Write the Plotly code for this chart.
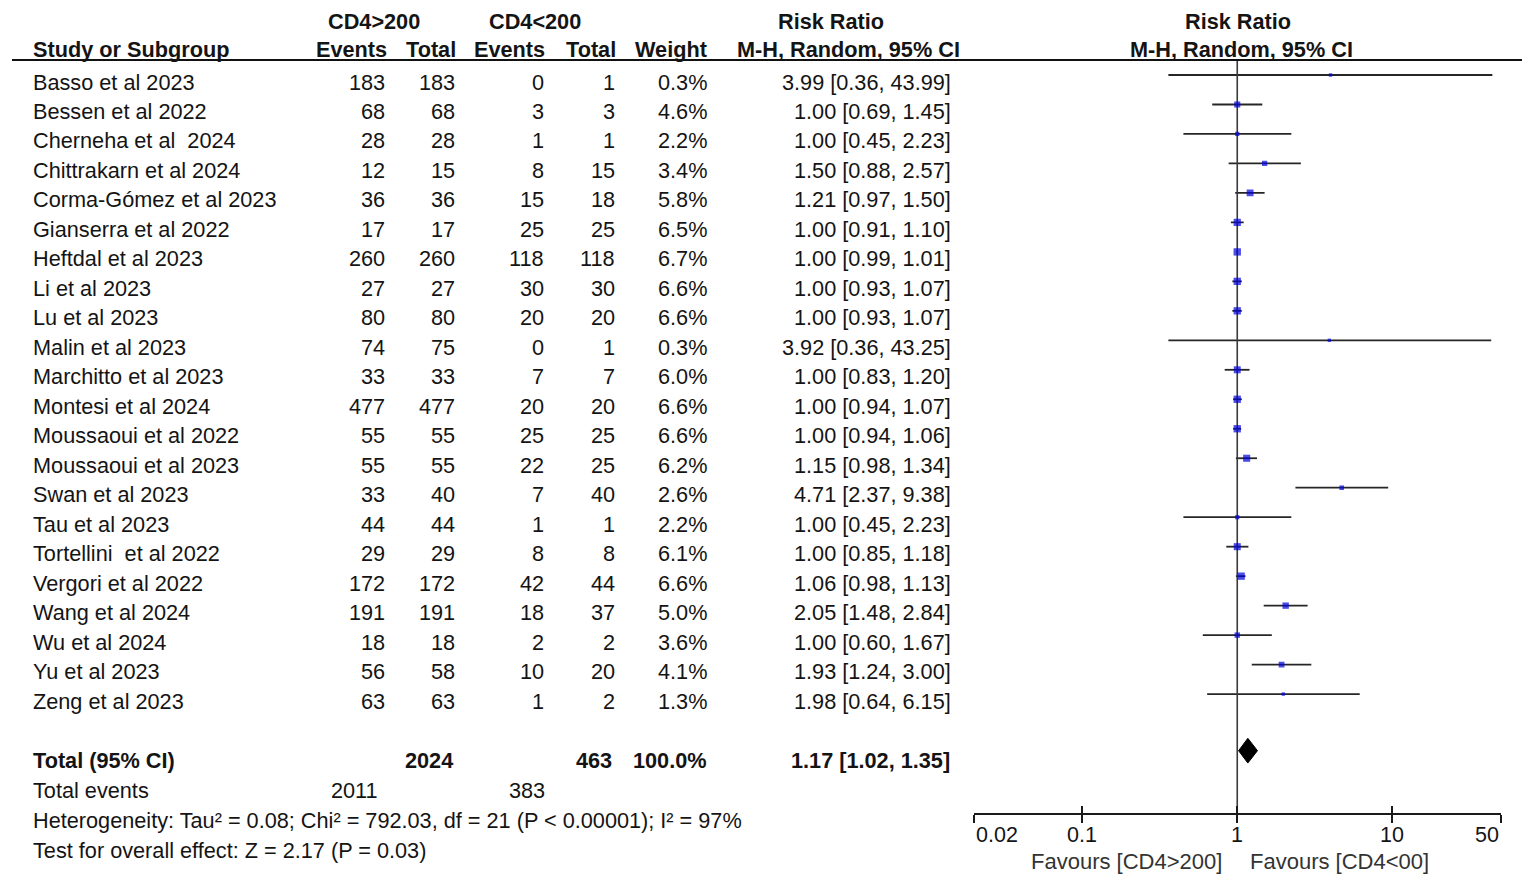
import math
import plotly.graph_objects as go

# ---------------- data ----------------
studies = ["Basso et al 2023", "Bessen et al 2022", "Cherneha et al  2024", "Chittrakarn et al 2024",
           "Corma-Gómez et al 2023", "Gianserra et al 2022", "Heftdal et al 2023", "Li et al 2023",
           "Lu et al 2023", "Malin et al 2023", "Marchitto et al 2023", "Montesi et al 2024",
           "Moussaoui et al 2022", "Moussaoui et al 2023", "Swan et al 2023", "Tau et al 2023",
           "Tortellini  et al 2022", "Vergori et al 2022", "Wang et al 2024", "Wu et al 2024",
           "Yu et al 2023", "Zeng et al 2023"]
events_hi = [183, 68, 28, 12, 36, 17, 260, 27, 80, 74, 33, 477, 55, 55, 33, 44, 29, 172, 191, 18, 56, 63]
total_hi = [183, 68, 28, 15, 36, 17, 260, 27, 80, 75, 33, 477, 55, 55, 40, 44, 29, 172, 191, 18, 58, 63]
events_lo = [0, 3, 1, 8, 15, 25, 118, 30, 20, 0, 7, 20, 25, 22, 7, 1, 8, 42, 18, 2, 10, 1]
total_lo = [1, 3, 1, 15, 18, 25, 118, 30, 20, 1, 7, 20, 25, 25, 40, 1, 8, 44, 37, 2, 20, 2]
weights = [0.3, 4.6, 2.2, 3.4, 5.8, 6.5, 6.7, 6.6, 6.6, 0.3, 6.0, 6.6, 6.6, 6.2, 2.6, 2.2, 6.1, 6.6, 5.0, 3.6, 4.1, 1.3]
rr = [3.99, 1.00, 1.00, 1.50, 1.21, 1.00, 1.00, 1.00, 1.00, 3.92, 1.00, 1.00, 1.00, 1.15, 4.71, 1.00, 1.00, 1.06, 2.05, 1.00, 1.93, 1.98]
ci_low = [0.36, 0.69, 0.45, 0.88, 0.97, 0.91, 0.99, 0.93, 0.93, 0.36, 0.83, 0.94, 0.94, 0.98, 2.37, 0.45, 0.85, 0.98, 1.48, 0.60, 1.24, 0.64]
ci_high = [43.99, 1.45, 2.23, 2.57, 1.50, 1.10, 1.01, 1.07, 1.07, 43.25, 1.20, 1.07, 1.06, 1.34, 9.38, 2.23, 1.18, 1.13, 2.84, 1.67, 3.00, 6.15]

total_n_hi = 2024
total_n_lo = 463
total_events_hi = 2011
total_events_lo = 383
total_weight = "100.0%"
pooled_rr = 1.17
pooled_low = 1.02
pooled_high = 1.35

tick_values = [0.02, 0.1, 1, 10, 50]
tick_labels = ["0.02", "0.1", "1", "10", "50"]
heterogeneity_text = "Heterogeneity: Tau² = 0.08; Chi² = 792.03, df = 21 (P < 0.00001); I² = 97%"
overall_text = "Test for overall effect: Z = 2.17 (P = 0.03)"
favours_left = "Favours [CD4&gt;200]"
favours_right = "Favours [CD4&lt;00]"

# ---------------- layout constants ----------------
W, H = 1535, 886
OFF = 8                    # page body offset
FONT = "Liberation Sans, Arial, sans-serif"
FS = 21.7
TXT = "#141414"
ROW_STEP = 29.48
PLOT_ROW0 = 75.0           # pixel of first plot row
TEXT_SHIFT = -7            # text sits slightly below plot row
TOP_PX, AXIS_PX = 60, 814
X_LEFT_PX, X_RIGHT_PX = 973.5, 1501
TICK_ANCHORS = ["left", "center", "center", "center", "right"]


def px(x):
    return (x - OFF) / W


def py(y):
    return 1 - (y - OFF) / H


y_top = (TOP_PX - PLOT_ROW0) / ROW_STEP
y_bot = (AXIS_PX - PLOT_ROW0) / ROW_STEP
rows = list(range(len(studies)))
total_row = len(studies) + 1

fig = go.Figure()

# CI lines
cx, cy = [], []
for i, (lo, hi) in enumerate(zip(ci_low, ci_high)):
    cx += [lo, hi, None]
    cy += [i, i, None]
fig.add_trace(go.Scatter(x=cx, y=cy, mode="lines", line=dict(color="#262626", width=1.8),
                         hoverinfo="skip"))

# line of no effect
fig.add_trace(go.Scatter(x=[1, 1], y=[y_top, y_bot], mode="lines",
                         line=dict(color="#3a3a3a", width=1.6), hoverinfo="skip"))

# point estimates (area proportional to weight)
sizes = [max(3.4, 2.85 * math.sqrt(w)) for w in weights]
fig.add_trace(go.Scatter(x=rr, y=rows, mode="markers",
                         marker=dict(symbol="square", size=sizes, color="#0000dd", line=dict(width=0))))

# pooled diamond
hd = 0.42
yc = total_row - 0.08
fig.add_trace(go.Scatter(x=[pooled_low, pooled_rr, pooled_high, pooled_rr, pooled_low],
                         y=[yc, yc - hd, yc, yc + hd, yc],
                         mode="lines", fill="toself", fillcolor="black",
                         line=dict(color="black", width=1)))

# invisible trace for the upper tick axis
fig.add_trace(go.Scatter(x=[1], y=[0], xaxis="x2", yaxis="y", mode="markers",
                         marker=dict(opacity=0), hoverinfo="skip"))

ann = []


def txt(x, y, s, anchor="left", bold=False, yref="paper", size=FS, color=TXT, yshift=0, xref="paper",
        xshift=0):
    if bold:
        s = "<b>" + s + "</b>"
    ann.append(dict(x=x, y=y, xref=xref, yref=yref, text=s, showarrow=False, xanchor=anchor,
                    yanchor="middle", font=dict(family=FONT, size=size, color=color), yshift=yshift,
                    xshift=xshift))


# header
txt(px(374), py(21), "CD4&gt;200", "center", True)
txt(px(535), py(21), "CD4&lt;200", "center", True)
txt(px(831), py(21), "Risk Ratio", "center", True)
txt(px(1238), py(21), "Risk Ratio", "center", True)
txt(px(31), py(50), "Study or Subgroup", "left", True)
txt(px(389), py(50), "Events", "right", True)
txt(px(458), py(50), "Total", "right", True)
txt(px(547), py(50), "Events", "right", True)
txt(px(618), py(50), "Total", "right", True)
txt(px(709), py(50), "Weight", "right", True)
txt(px(849), py(50), "M-H, Random, 95% CI", "center", True)
txt(px(1241), py(50), "M-H, Random, 95% CI", "center", True)

# study rows
for i in rows:
    txt(px(31), i, studies[i], "left", yref="y", yshift=TEXT_SHIFT)
    txt(px(387), i, str(events_hi[i]), "right", yref="y", yshift=TEXT_SHIFT)
    txt(px(457), i, str(total_hi[i]), "right", yref="y", yshift=TEXT_SHIFT)
    txt(px(546), i, str(events_lo[i]), "right", yref="y", yshift=TEXT_SHIFT)
    txt(px(617), i, str(total_lo[i]), "right", yref="y", yshift=TEXT_SHIFT)
    txt(px(709), i, f"{weights[i]:.1f}%", "right", yref="y", yshift=TEXT_SHIFT)
    txt(px(953), i, f"{rr[i]:.2f} [{ci_low[i]:.2f}, {ci_high[i]:.2f}]", "right", yref="y", yshift=TEXT_SHIFT)

# total rows
txt(px(31), total_row, "Total (95% CI)", "left", True, yref="y", yshift=TEXT_SHIFT)
txt(px(455), total_row, str(total_n_hi), "right", True, yref="y", yshift=TEXT_SHIFT)
txt(px(614), total_row, str(total_n_lo), "right", True, yref="y", yshift=TEXT_SHIFT)
txt(px(709), total_row, total_weight, "right", True, yref="y", yshift=TEXT_SHIFT)
txt(px(952), total_row, f"{pooled_rr:.2f} [{pooled_low:.2f}, {pooled_high:.2f}]", "right", True,
    yref="y", yshift=TEXT_SHIFT)
txt(px(31), py(790), "Total events", "left")
txt(px(380), py(790), str(total_events_hi), "right")
txt(px(547), py(790), str(total_events_lo), "right")
txt(px(31), py(820), heterogeneity_text, "left")
txt(px(31), py(850), overall_text, "left")

# axis tick labels (end labels aligned inward)
for v, lab, anc in zip(tick_values, tick_labels, TICK_ANCHORS):
    txt(math.log10(v), py(835), lab, anc, xref="x", size=21.5)

# favours labels
txt(0, py(861), favours_left, "right", xref="x", size=22, color="#333333", xshift=-13)
txt(0, py(861), favours_right, "left", xref="x", size=22, color="#333333", xshift=11)

axis_common = dict(type="log", range=[math.log10(0.02), math.log10(50)],
                   domain=[px(X_LEFT_PX), px(X_RIGHT_PX)], anchor="free", position=py(AXIS_PX),
                   tickvals=tick_values, showticklabels=False, showgrid=False, zeroline=False,
                   ticklen=8.5, tickwidth=1.6, tickcolor="#1a1a1a", automargin=False)

fig.update_layout(
    width=W, height=H, margin=dict(l=0, r=0, t=0, b=0, pad=0, autoexpand=False),
    paper_bgcolor="white", plot_bgcolor="white", showlegend=False,
    xaxis=dict(**axis_common, showline=True, linecolor="#1a1a1a", linewidth=1.6, ticks="outside"),
    xaxis2=dict(**axis_common, overlaying="x", showline=False, ticks="inside"),
    yaxis=dict(range=[y_bot, y_top], domain=[py(AXIS_PX), py(TOP_PX)], visible=False),
    annotations=ann,
    shapes=[dict(type="line", xref="paper", yref="paper", x0=px(12), x1=px(1522), y0=py(60), y1=py(60),
                 line=dict(color="#111111", width=2))],
)

fig.write_html("out.html")
